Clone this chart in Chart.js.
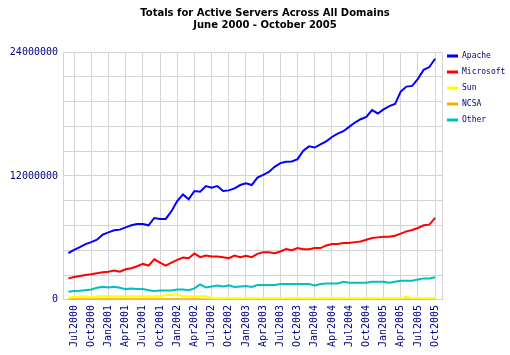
<!DOCTYPE html>
<html><head><meta charset="utf-8">
<script src="https://cdn.jsdelivr.net/npm/chart.js@4/dist/chart.umd.min.js"></script>
<style>html,body{margin:0;padding:0;background:#fff}#wrap{width:510px;height:355px}</style>
</head><body><div id="wrap"><canvas id="c" width="510" height="355"></canvas></div>
<script>
const months = [
 'Jun2000','Jul2000','Aug2000','Sep2000','Oct2000','Nov2000','Dec2000',
 'Jan2001','Feb2001','Mar2001','Apr2001','May2001','Jun2001','Jul2001','Aug2001','Sep2001','Oct2001','Nov2001','Dec2001',
 'Jan2002','Feb2002','Mar2002','Apr2002','May2002','Jun2002','Jul2002','Aug2002','Sep2002','Oct2002','Nov2002','Dec2002',
 'Jan2003','Feb2003','Mar2003','Apr2003','May2003','Jun2003','Jul2003','Aug2003','Sep2003','Oct2003','Nov2003','Dec2003',
 'Jan2004','Feb2004','Mar2004','Apr2004','May2004','Jun2004','Jul2004','Aug2004','Sep2004','Oct2004','Nov2004','Dec2004',
 'Jan2005','Feb2005','Mar2005','Apr2005','May2005','Jun2005','Jul2005','Aug2005','Sep2005','Oct2005'
];
const xTickLabels = ['Jul2000','Oct2000','Jan2001','Apr2001','Jul2001','Oct2001','Jan2002','Apr2002','Jul2002','Oct2002',
 'Jan2003','Apr2003','Jul2003','Oct2003','Jan2004','Apr2004','Jul2004','Oct2004','Jan2005','Apr2005','Jul2005','Oct2005'];
const yTickLabels = [0, 12000000, 24000000];

const apache = [4520000,4850000,5100000,5400000,5590000,5820000,6310000,6540000,6730000,6800000,
 7020000,7220000,7350000,7350000,7220000,7930000,7840000,7840000,8590000,9560000,
 10210000,9730000,10540000,10470000,11020000,10860000,11020000,10540000,10600000,10800000,
 11120000,11290000,11120000,11840000,12100000,12390000,12880000,13240000,13370000,13400000,
 13630000,14440000,14860000,14750000,15060000,15350000,15770000,16100000,16330000,16750000,
 17170000,17490000,17720000,18370000,18050000,18440000,18760000,18960000,20170000,20650000,
 20720000,21400000,22280000,22540000,23350000];
const microsoft = [2080000,2210000,2310000,2410000,2470000,2570000,2670000,2730000,2830000,2730000,
 2960000,3060000,3250000,3480000,3320000,3930000,3610000,3320000,3610000,3870000,
 4100000,4030000,4490000,4130000,4290000,4190000,4190000,4130000,4030000,4290000,
 4130000,4260000,4130000,4450000,4620000,4620000,4520000,4680000,4910000,4810000,
 5010000,4910000,4910000,5010000,5010000,5270000,5400000,5400000,5500000,5500000,
 5590000,5660000,5820000,5980000,6050000,6110000,6110000,6210000,6410000,6630000,
 6760000,6960000,7220000,7280000,7930000];
const sun = [200000,300000,360000,360000,200000,360000,360000,360000,360000,360000,
 360000,360000,360000,360000,360000,360000,360000,460000,460000,550000,
 360000,360000,360000,360000,360000,150000,150000,150000,150000,150000,
 150000,150000,150000,150000,150000,150000,150000,150000,150000,150000,
 150000,150000,150000,150000,150000,150000,150000,150000,150000,150000,
 150000,150000,150000,150000,150000,150000,150000,150000,150000,300000,
 150000,150000,150000,150000,150000];
const ncsa = [50000,50000,50000,50000,50000,50000,50000,50000,50000,50000,
 50000,50000,50000,50000,50000,50000,50000,50000,50000,50000,
 50000,50000,50000,50000,40000,40000,40000,40000,40000,40000,
 40000,40000,40000,40000,40000,40000,40000,40000,30000,30000,
 30000,30000,30000,30000,30000,30000,30000,30000,30000,30000,
 30000,30000,30000,30000,30000,30000,30000,30000,30000,30000,
 30000,30000,30000,30000,30000];
const other = [780000,850000,880000,940000,1010000,1170000,1270000,1200000,1270000,1170000,
 1040000,1110000,1040000,1040000,940000,850000,910000,910000,910000,1010000,
 1010000,940000,1110000,1500000,1200000,1300000,1400000,1300000,1400000,1240000,
 1300000,1330000,1240000,1430000,1430000,1430000,1430000,1530000,1530000,1530000,
 1530000,1530000,1530000,1400000,1530000,1590000,1590000,1590000,1760000,1660000,
 1660000,1660000,1660000,1760000,1760000,1760000,1660000,1760000,1850000,1850000,
 1850000,1980000,2080000,2080000,2180000];

const seriesNames = ['Apache','Microsoft','Sun','NCSA','Other'];
const seriesData = [apache, microsoft, sun, ncsa, other];
const seriesColors = ['#0000ff','#ff0000','#ffff00','#ffaa00','#00c0c0'];

const X_MIN = -0.93, X_MAX = 65.2;
const GRID = '#d4d4d4';
const NAVY = '#000080';

const datasets = seriesNames.map((name, k) => ({
  label: name,
  data: seriesData[k].map((v, i) => ({x: i, y: v})),
  borderColor: seriesColors[k],
  backgroundColor: seriesColors[k],
  borderWidth: 2,
  pointRadius: 0,
  tension: 0,
  fill: false
}));

const boxShift = {
  id: 'boxShift',
  afterLayout(chart) {
    const l = chart.legend;
    if (l) {
      const h = l.bottom - l.top;
      l.left -= 3; l.right -= 3;
      l.top = chart.chartArea.top - 8;
      l.bottom = l.top + h;
    }
    const t = chart.titleBlock;
    if (t) { t.left += 20; }
  }
};

new Chart(document.getElementById('c'), {
  type: 'line',
  data: { datasets },
  plugins: [boxShift],
  options: {
    responsive: false,
    animation: false,
    devicePixelRatio: 1,
    layout: { padding: { left: 0, right: 0, top: 0, bottom: 3 } },
    scales: {
      x: {
        type: 'linear',
        min: X_MIN, max: X_MAX,
        afterBuildTicks(scale) {
          scale.ticks = [{value: X_MIN}]
            .concat(xTickLabels.map(m => ({value: months.indexOf(m)})))
            .concat([{value: X_MAX}]);
        },
        ticks: {
          autoSkip: false,
          minRotation: 90, maxRotation: 90,
          padding: 5,
          color: NAVY,
          font: { family: 'DejaVu Sans Mono', size: 10 },
          callback(v) {
            const m = months[v];
            return (m && xTickLabels.includes(m)) ? m : '';
          }
        },
        grid: { color: GRID, drawTicks: false, lineWidth: 1 },
        border: { color: GRID }
      },
      y: {
        min: 0, max: 24000000,
        afterFit(scale) { scale.width = 63; },
        ticks: {
          stepSize: 2400000,
          padding: 5,
          color: NAVY,
          font: { family: 'DejaVu Sans Mono', size: 10 },
          callback(v) { return yTickLabels.includes(v) ? String(v) : ''; }
        },
        grid: { color: GRID, drawTicks: false, lineWidth: 1 },
        border: { color: GRID }
      }
    },
    plugins: {
      title: {
        display: true,
        text: ['Totals for Active Servers Across All Domains', 'June 2000 - October 2005'],
        color: '#000',
        font: { family: 'DejaVu Sans', size: 10, weight: 'bold', lineHeight: 12.5 / 10 },
        padding: { top: 7, bottom: 20 }
      },
      legend: {
        position: 'right',
        align: 'start',
        maxWidth: 68,
        labels: {
          boxWidth: 11, boxHeight: 3, padding: 8,
          color: NAVY,
          font: { family: 'DejaVu Sans Mono', size: 8 },
          generateLabels(chart) {
            return Chart.defaults.plugins.legend.labels.generateLabels(chart).map(l => Object.assign(l, {lineWidth: 0}));
          }
        }
      },
      tooltip: { enabled: false }
    }
  }
});
</script>
</body></html>
